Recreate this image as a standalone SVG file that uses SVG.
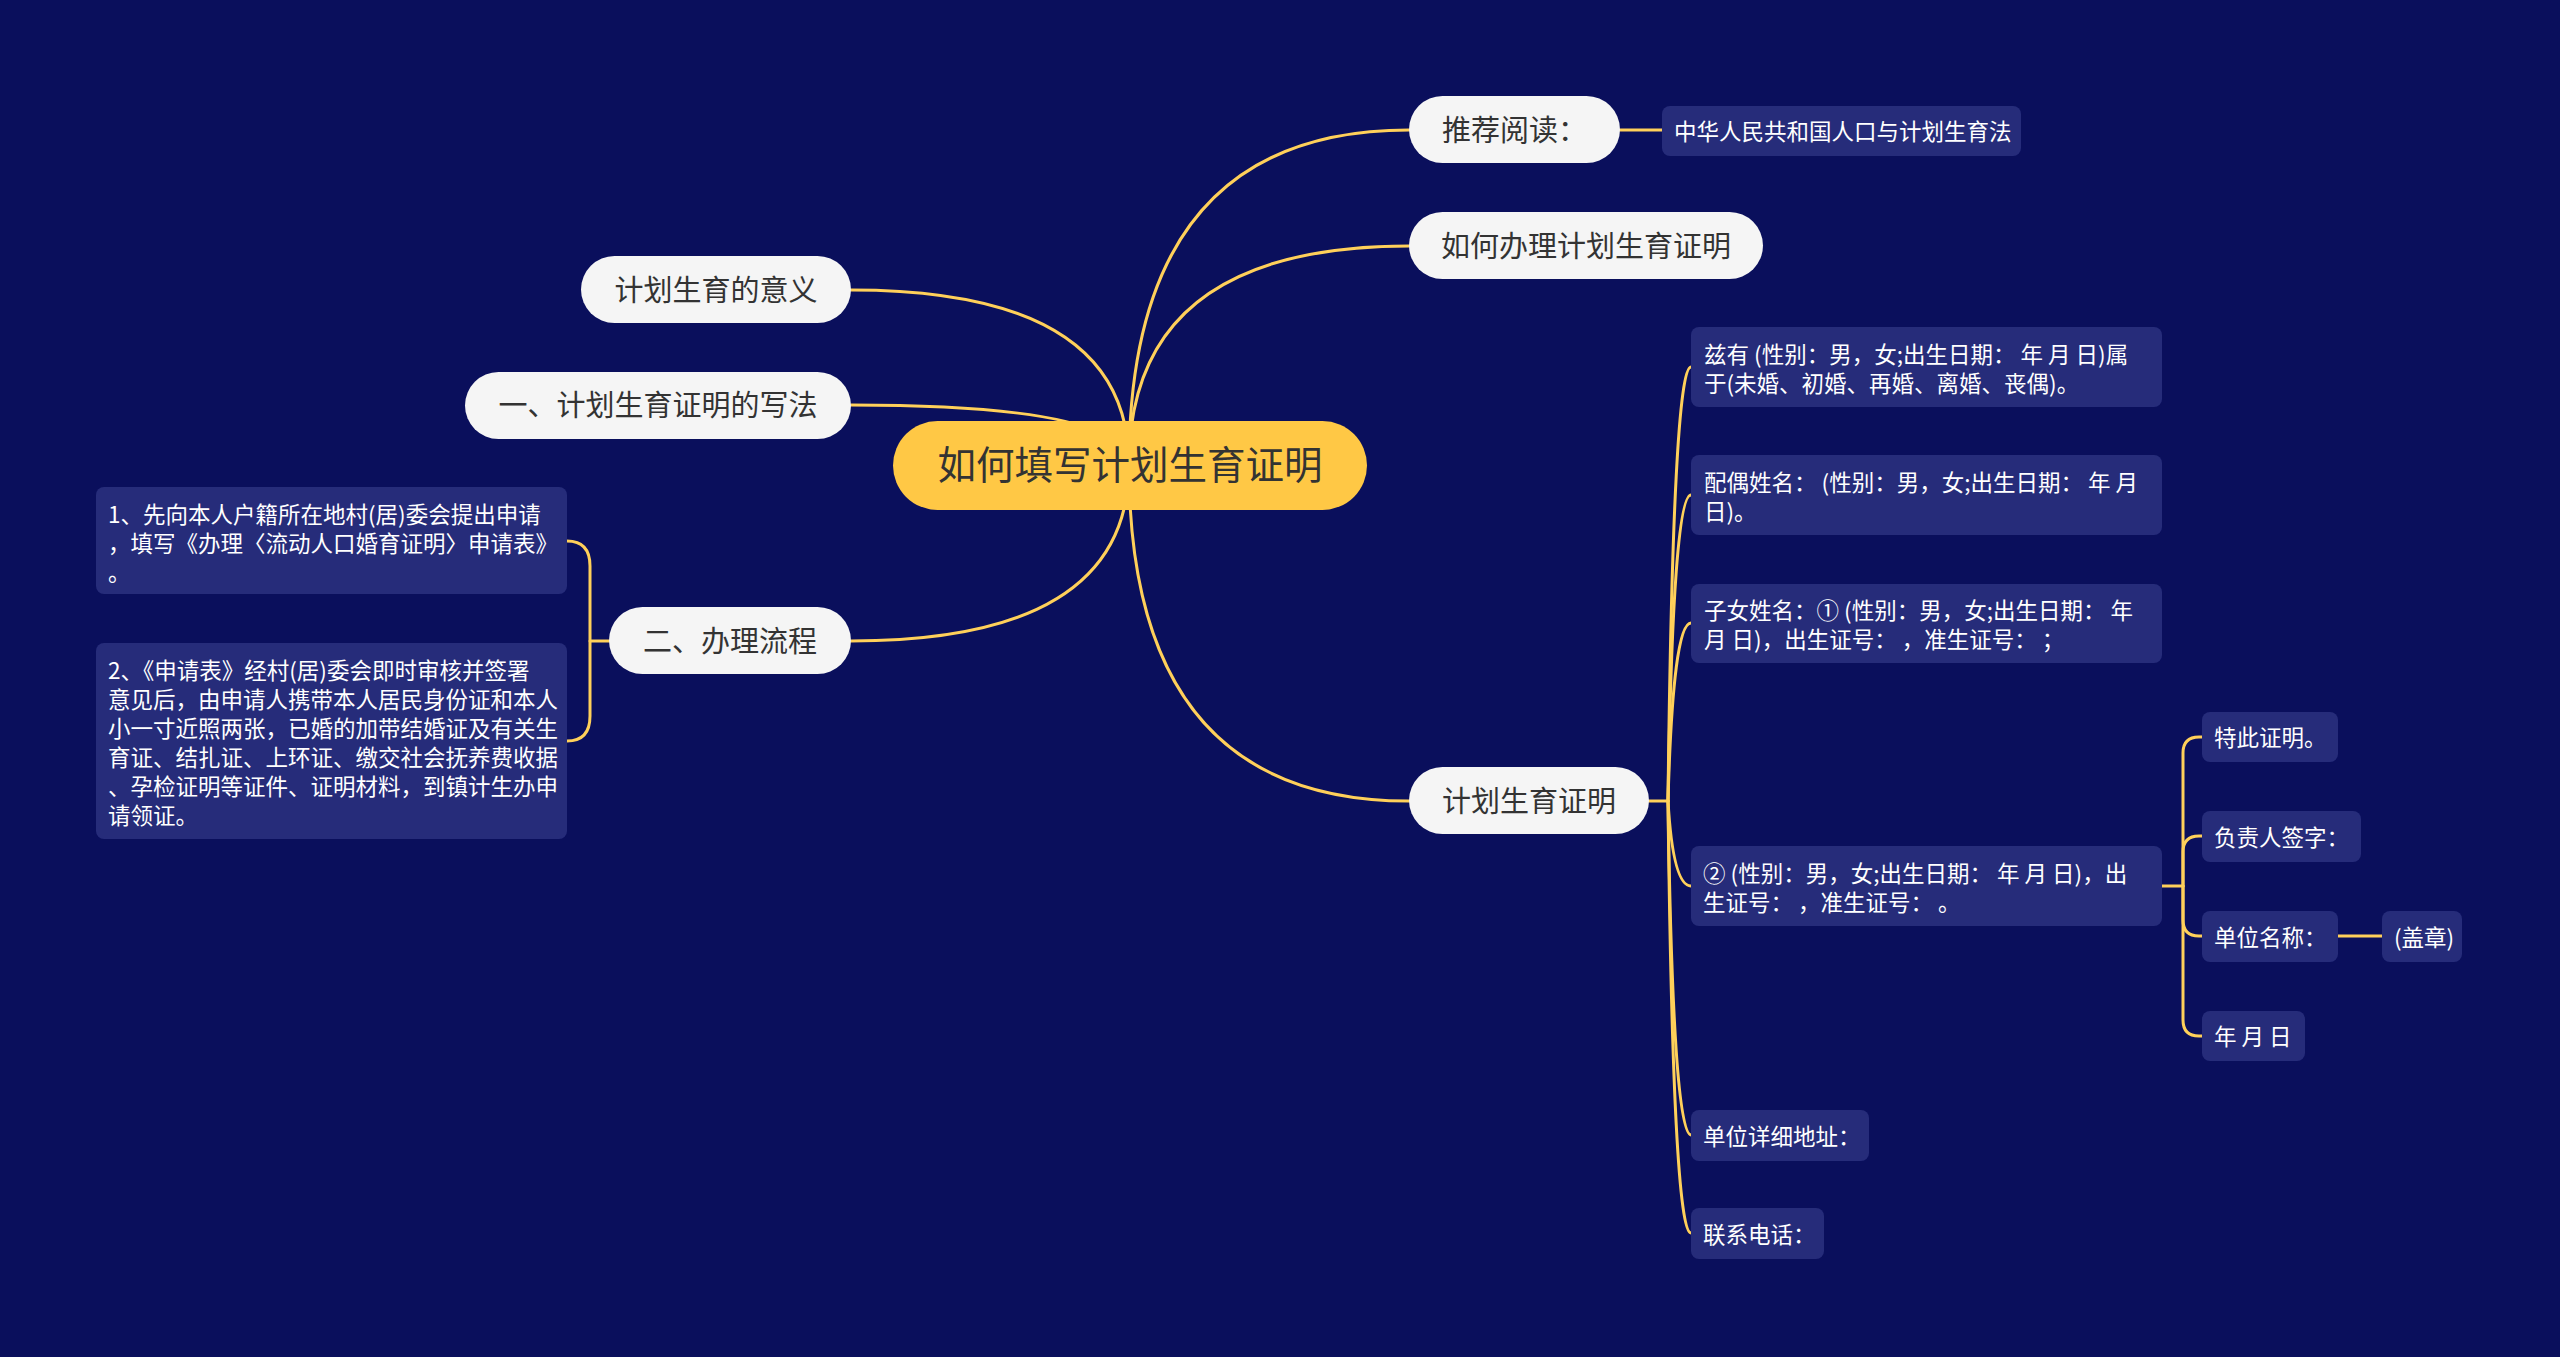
<svg xmlns="http://www.w3.org/2000/svg" width="2560" height="1357" viewBox="0 0 2560 1357">
<style>
.bg{fill:#0A0F5C}
.conn path{fill:none;stroke:#FFD05A;stroke-width:3;stroke-linecap:round}
.root rect{fill:#FFC845}
.root text{font-family:"Noto Sans CJK SC","Noto Sans",sans-serif;font-size:38.5px;fill:#333333;text-anchor:middle}
.main rect{fill:#F5F5F5}
.main text{font-family:"Noto Sans CJK SC","Noto Sans",sans-serif;font-size:29px;fill:#333333;text-anchor:middle}
.leaf rect{fill:#262C7A}
.leaf text{font-family:"Noto Sans CJK SC","Noto Sans",sans-serif;font-size:22.5px;fill:#FFFFFF}
</style>
<rect class="bg" x="0" y="0" width="2560" height="1357"/>
<g id="connectors" class="conn">
<path d="M1129 465 Q1129 130 1409 130"/>
<path d="M1129 465 Q1129 246 1409 246"/>
<path d="M1129 465 Q1129 801 1409 801"/>
<path d="M1129 465 Q1129 290 851 290"/>
<path d="M1129 465 Q1129 405 851 405"/>
<path d="M1129 465 Q1129 641 851 641"/>
<path d="M1620 130 H1662"/>
<path d="M609 641 H590"/>
<path d="M567 541 Q590 541 590 566 V716 Q590 741 567 741"/>
<path d="M1649 801 H1668"/>
<path d="M1668 801 Q1673 367 1691 367"/>
<path d="M1668 801 Q1673 495 1691 495"/>
<path d="M1668 801 Q1673 623 1691 623"/>
<path d="M1668 801 Q1673 886 1691 886"/>
<path d="M1668 801 Q1673 1135 1691 1135"/>
<path d="M1668 801 Q1673 1233 1691 1233"/>
<path d="M2162 886 H2183"/>
<path d="M2183 886 V753 Q2183 737 2199 737 H2202"/>
<path d="M2183 886 V852 Q2183 836 2199 836 H2202"/>
<path d="M2183 886 V920 Q2183 936 2199 936 H2202"/>
<path d="M2183 886 V1020 Q2183 1036 2199 1036 H2202"/>
<path d="M2338 936 H2382"/>
</g>
<g id="root" class="root">
<rect x="893" y="421" width="474" height="89" rx="44.5"/>
<text x="1130" y="479">如何填写计划生育证明</text>
</g>
<g id="n-tuijian" class="main">
<rect x="1409" y="96" width="211" height="67" rx="33.5"/>
<text x="1514.5" y="141">推荐阅读：</text>
</g>
<g id="n-banli" class="main">
<rect x="1409" y="212" width="354" height="67" rx="33.5"/>
<text x="1586" y="257">如何办理计划生育证明</text>
</g>
<g id="n-yiyi" class="main">
<rect x="581" y="256" width="270" height="67" rx="33.5"/>
<text x="716" y="301">计划生育的意义</text>
</g>
<g id="n-xiefa" class="main">
<rect x="465" y="372" width="386" height="67" rx="33.5"/>
<text x="658" y="416">一、计划生育证明的写法</text>
</g>
<g id="n-liucheng" class="main">
<rect x="609" y="607" width="242" height="67" rx="33.5"/>
<text x="730" y="652">二、办理流程</text>
</g>
<g id="n-zhengming" class="main">
<rect x="1409" y="767" width="240" height="67" rx="33.5"/>
<text x="1529" y="812">计划生育证明</text>
</g>
<g id="l-fa" class="leaf">
<rect x="1662" y="106" width="359" height="50" rx="8"/>
<text x="1674" y="140">中华人民共和国人口与计划生育法</text>
</g>
<g id="l-step1" class="leaf">
<rect x="96" y="487" width="471" height="107" rx="8"/>
<text x="108" y="523">1、先向本人户籍所在地村(居)委会提出申请</text>
<text x="108" y="552">，填写《办理〈流动人口婚育证明〉申请表》</text>
<text x="108" y="581">。</text>
</g>
<g id="l-step2" class="leaf">
<rect x="96" y="643" width="471" height="196" rx="8"/>
<text x="108" y="679">2、《申请表》经村(居)委会即时审核并签署</text>
<text x="108" y="708">意见后，由申请人携带本人居民身份证和本人</text>
<text x="108" y="737">小一寸近照两张，已婚的加带结婚证及有关生</text>
<text x="108" y="766">育证、结扎证、上环证、缴交社会抚养费收据</text>
<text x="108" y="795">、孕检证明等证件、证明材料，到镇计生办申</text>
<text x="108" y="824">请领证。</text>
</g>
<g id="l-ziyou" class="leaf">
<rect x="1691" y="327" width="471" height="80" rx="8"/>
<text x="1704" y="363">兹有 (性别：男，女;出生日期： 年 月 日)属</text>
<text x="1704" y="392">于(未婚、初婚、再婚、离婚、丧偶)。</text>
</g>
<g id="l-peiou" class="leaf">
<rect x="1691" y="455" width="471" height="80" rx="8"/>
<text x="1704" y="491">配偶姓名： (性别：男，女;出生日期： 年 月</text>
<text x="1704" y="520">日)。</text>
</g>
<g id="l-zinv" class="leaf">
<rect x="1691" y="584" width="471" height="79" rx="8"/>
<text x="1704" y="619">子女姓名：① (性别：男，女;出生日期： 年</text>
<text x="1704" y="648">月 日)，出生证号： ，准生证号： ；</text>
</g>
<g id="l-two" class="leaf">
<rect x="1691" y="846" width="471" height="80" rx="8"/>
<text x="1703" y="882">② (性别：男，女;出生日期： 年 月 日)，出</text>
<text x="1703" y="911">生证号： ，准生证号： 。</text>
</g>
<g id="l-dizhi" class="leaf">
<rect x="1691" y="1110" width="178" height="51" rx="8"/>
<text x="1703" y="1145">单位详细地址：</text>
</g>
<g id="l-dianhua" class="leaf">
<rect x="1691" y="1208" width="133" height="51" rx="8"/>
<text x="1703" y="1243">联系电话：</text>
</g>
<g id="l-tecizm" class="leaf">
<rect x="2202" y="712" width="136" height="50" rx="8"/>
<text x="2214" y="746">特此证明。</text>
</g>
<g id="l-fuzeren" class="leaf">
<rect x="2202" y="811" width="159" height="51" rx="8"/>
<text x="2214" y="846">负责人签字：</text>
</g>
<g id="l-danwei" class="leaf">
<rect x="2202" y="911" width="136" height="51" rx="8"/>
<text x="2214" y="946">单位名称：</text>
</g>
<g id="l-gaizhang" class="leaf">
<rect x="2382" y="911" width="80" height="51" rx="8"/>
<text x="2394" y="946">(盖章)</text>
</g>
<g id="l-nianyueri" class="leaf">
<rect x="2202" y="1011" width="103" height="50" rx="8"/>
<text x="2214" y="1045">年 月 日</text>
</g>
</svg>
